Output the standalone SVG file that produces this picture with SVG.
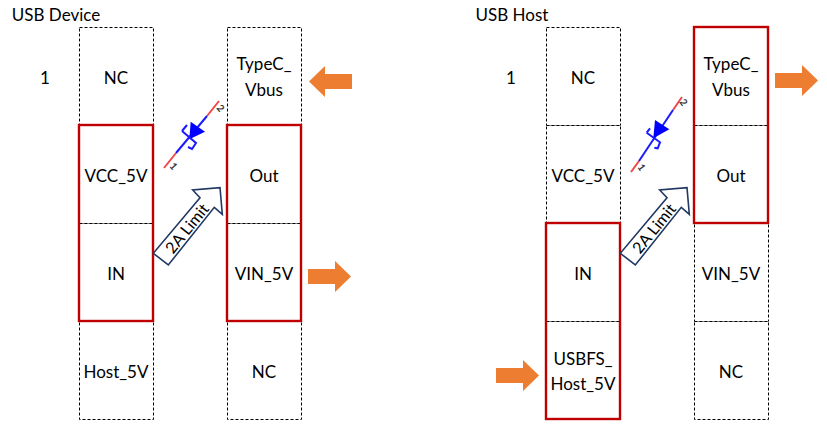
<svg xmlns="http://www.w3.org/2000/svg" width="827" height="437" viewBox="0 0 827 437">
<defs>
<style>
text{font-family:"Lato","Open Sans","Liberation Sans",sans-serif;font-size:17px;fill:#000;text-anchor:middle}
.cell{fill:#fff;stroke:#000;stroke-width:1;stroke-dasharray:3 2}
.red{fill:none;stroke:#c00000;stroke-width:2.400}
.orange{fill:#ed7d31}
.lim{fill:#fff;stroke:#203864;stroke-width:1.600}
.r{stroke:#f04848;stroke-width:2;fill:none}
.b{stroke:#1a1aff;stroke-width:2;fill:none}
.d{fill:#0000ff;stroke:none}
.num{font-size:10px;fill:#333;font-weight:700}
.lt{font-size:16px}
</style>
<polygon id="oa" class="orange" points="0,8 27,8 27,0 43,15.500 27,31 27,23 0,23"/>
</defs>
<rect width="827" height="437" fill="#fff"/>

<g id="connectors"></g>

<g id="device-labels">
<text x="56" y="21">USB Device</text>
<text x="45" y="84">1</text>
</g>
<g id="dev-nc"><rect class="cell" x="79.500" y="27.500" width="74" height="98"/><text x="116" y="84">NC</text></g>
<g id="dev-vcc"><rect class="cell" x="79.500" y="125.500" width="74" height="98"/><text x="116" y="182">VCC_5V</text></g>
<g id="dev-in"><rect class="cell" x="79.500" y="223.500" width="74" height="98"/><text x="116" y="280">IN</text></g>
<g id="dev-host"><rect class="cell" x="79.500" y="321.500" width="74" height="98"/><text x="116" y="378">Host_5V</text></g>
<g id="dev-vbus"><rect class="cell" x="227.500" y="27.500" width="74" height="98"/><text x="264" y="70">TypeC_</text><text x="264" y="96">Vbus</text></g>
<g id="dev-out"><rect class="cell" x="227.500" y="125.500" width="74" height="98"/><text x="264" y="182">Out</text></g>
<g id="dev-vin"><rect class="cell" x="227.500" y="223.500" width="74" height="98"/><text x="264" y="280">VIN_5V</text></g>
<g id="dev-nc2"><rect class="cell" x="227.500" y="321.500" width="74" height="98"/><text x="264" y="378">NC</text></g>
<g id="dev-red"><rect class="red" x="79" y="125" width="74" height="196"/><rect class="red" x="227" y="125" width="74" height="196"/></g>

<g id="dev-diode">
<path class="r" d="M164 168L176 153M207 116L219 101"/>
<path class="b" d="M176 153L207 116"/>
<polygon class="d" points="190.700,121.700 205,131.700 189.300,139.300"/>
<path class="b" d="M182 131L187 125M182 131L196 143L192 149L188 147"/>
<text class="num" x="174" y="170" transform="rotate(50 174 166)">1</text>
<text class="num" x="221" y="112" transform="rotate(50 221 108)">2</text>
</g>
<g id="dev-limit">
<polygon class="lim" points="153.300,253.300 168.300,265 214.300,207.300 222.300,214.300 220,187.700 192.700,190 200,197.700"/>
<text class="lt" x="0" y="0" transform="translate(191.500,232) rotate(-51)">2A Limit</text>
</g>
<use id="dev-arrow-in" href="#oa" x="309" y="66" transform="rotate(180 330.500 81.500)"/>
<use id="dev-arrow-out" href="#oa" x="308" y="261"/>

<g id="host-labels">
<text x="512" y="21">USB Host</text>
<text x="511" y="84">1</text>
</g>
<g id="host-nc"><rect class="cell" x="546.500" y="27.500" width="74" height="98"/><text x="583" y="84">NC</text></g>
<g id="host-vcc"><rect class="cell" x="546.500" y="125.500" width="74" height="98"/><text x="583" y="182">VCC_5V</text></g>
<g id="host-in"><rect class="cell" x="546.500" y="223.500" width="74" height="98"/><text x="583" y="280">IN</text></g>
<g id="host-usbfs"><rect class="cell" x="546.500" y="321.500" width="74" height="98"/><text x="583" y="365">USBFS_</text><text x="583" y="390">Host_5V</text></g>
<g id="host-vbus"><rect class="cell" x="694.500" y="27.500" width="74" height="98"/><text x="731" y="70">TypeC_</text><text x="731" y="96">Vbus</text></g>
<g id="host-out"><rect class="cell" x="694.500" y="125.500" width="74" height="98"/><text x="731" y="182">Out</text></g>
<g id="host-vin"><rect class="cell" x="694.500" y="223.500" width="74" height="98"/><text x="731" y="280">VIN_5V</text></g>
<g id="host-nc2"><rect class="cell" x="694.500" y="321.500" width="74" height="98"/><text x="731" y="378">NC</text></g>
<g id="host-red"><rect class="red" x="546" y="223" width="74" height="196"/><rect class="red" x="694" y="27" width="74" height="196"/></g>

<g id="host-diode">
<path class="r" d="M631 172L639 161M673 110L682 97"/>
<path class="b" d="M639 161L673 110"/>
<polygon class="d" points="655,120 669.300,129.300 653.300,138.300"/>
<path class="b" d="M646.700 132.700L650 128.300M646.700 132.700L660 142.300L657.700 148.300L654.300 147.700"/>
<text class="num" x="642" y="171" transform="rotate(55 642 167)">1</text>
<text class="num" x="684" y="106" transform="rotate(55 684 102)">2</text>
</g>
<g id="host-limit">
<polygon class="lim" points="620.300,253.300 635.300,265 681.300,207.300 689.300,214.300 687,187.700 659.700,190 667,197.700"/>
<text class="lt" x="0" y="0" transform="translate(658.500,232) rotate(-51)">2A Limit</text>
</g>
<use id="host-arrow-out" href="#oa" x="775" y="65"/>
<use id="host-arrow-in" href="#oa" x="496" y="360"/>
</svg>
